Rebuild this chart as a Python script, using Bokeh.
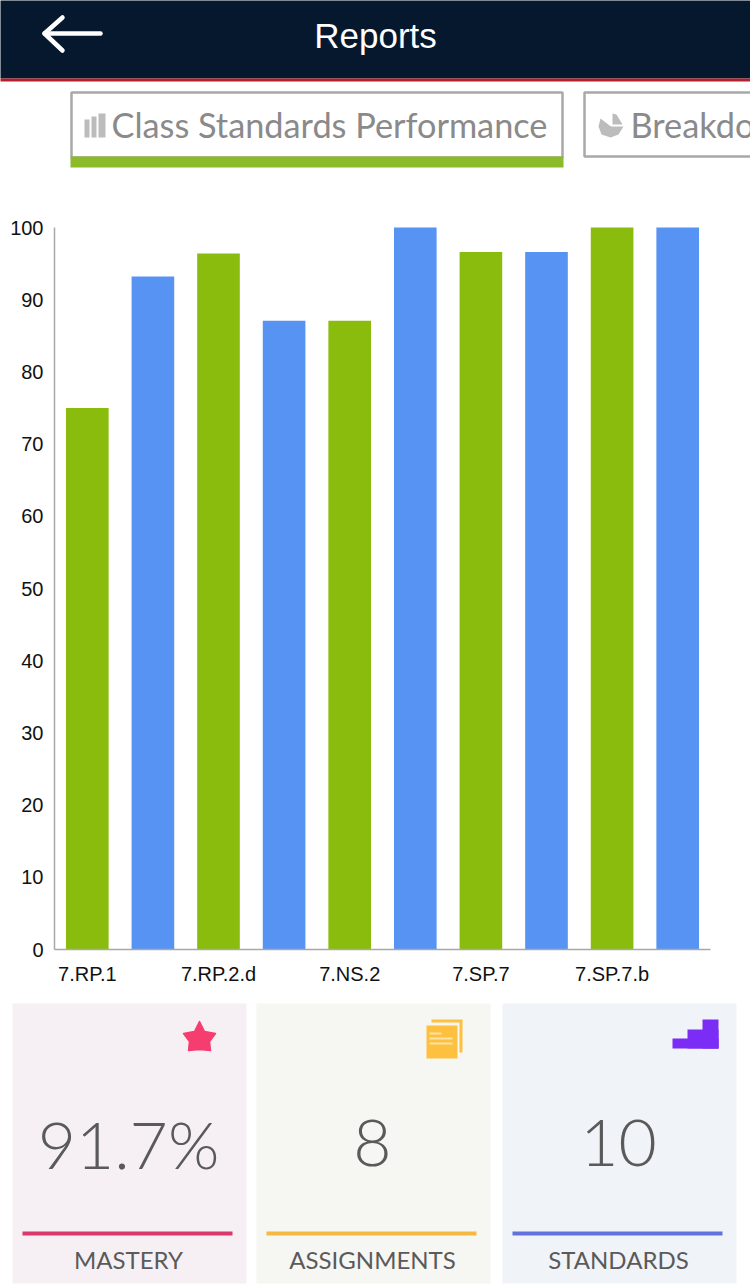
from bokeh.core.properties import value
from bokeh.embed import file_html
from bokeh.resources import INLINE
from bokeh.plotting import figure
from bokeh.models import ColumnDataSource, FixedTicker, Range1d, LinearAxis

# ---- chart data -------------------------------------------------------
tick_labels = ["7.RP.1", "7.RP.2.d", "7.NS.2", "7.SP.7", "7.SP.7.b"]
values = [75, 93.2, 96.4, 87.1, 87.1, 100, 96.6, 96.6, 100, 100]
mastery_group = ["green", "blue", "green", "blue", "green", "blue", "green", "blue", "green", "blue"]
y_ticks = [0, 10, 20, 30, 40, 50, 60, 70, 80, 90, 100]
group_colors = {"green": "#8abc0e", "blue": "#5793f3"}

card_values = ["91.7%", "8", "10"]
card_names = ["MASTERY", "ASSIGNMENTS", "STANDARDS"]

W, H = 750, 1287
# plot area inside the page, in page pixels
FL, FR, FT, FB = 54, 710, 227, 949
positions = list(range(len(values)))
source = ColumnDataSource(dict(x=positions, top=values, color=[group_colors[g] for g in mastery_group]))

# the default ranges are the page pixels; the chart has its own scales
p = figure(width=W, height=H, output_backend="svg", toolbar_location=None,
           x_range=Range1d(0, W), y_range=Range1d(H, 0),
           x_axis_type=None, y_axis_type=None,
           min_border=0, styles={"position": "absolute", "left": "0px", "top": "0px"})
p.outline_line_color = None
p.grid.visible = False
p.background_fill_color = "white"

ux = (FR - FL) / len(values)
uy = (FB - FT) / 100
p.extra_x_ranges["cat"] = Range1d(-0.5 - FL / ux, len(values) - 0.5 + (W - FR) / ux)
p.extra_y_ranges["val"] = Range1d((FB - H) / uy, FB / uy)


def box(l, t, r, b, fill, line=None, lw=0):
    p.quad(left=[l], right=[r], top=[t], bottom=[b], fill_color=fill, line_color=line, line_width=lw)


def text(x, y, s, font, size, color, align="left"):
    # y is the wanted baseline; the text glyph sits about 0.4 em lower than asked
    p.text(x=[x], y=[y - 0.4 * size], text=[s], text_font=value(font), text_font_size=f"{size}px",
           text_color=color, text_align=align, text_baseline="alphabetic")


def poly(xs, ys, fill, line=None, lw=0):
    p.patch(x=xs, y=ys, fill_color=fill, line_color=line, line_width=lw, line_join="round")


def stroke(xs, ys, color, lw):
    p.line(x=xs, y=ys, line_color=color, line_width=lw, line_cap="round", line_join="round")


# chart
p.vbar(x="x", top="top", bottom=0, width=0.65, color="color", line_color=None, source=source,
       x_range_name="cat", y_range_name="val")
xaxis = LinearAxis(x_range_name="cat", fixed_location=FB, bounds=(-0.5, 9.5),
                   ticker=FixedTicker(ticks=positions[::2]),
                   major_label_overrides={positions[i * 2]: t for i, t in enumerate(tick_labels)},
                   major_label_standoff=7)
yaxis = LinearAxis(y_range_name="val", fixed_location=FL, bounds=(0, 100),
                   ticker=FixedTicker(ticks=y_ticks), major_label_standoff=5)
for ax in (xaxis, yaxis):
    ax.axis_line_color = "#a8a8a8"
    ax.axis_line_width = 1.5
    ax.major_tick_line_color = None
    ax.minor_tick_line_color = None
    ax.major_label_text_font = "Liberation Sans"
    ax.major_label_text_font_size = "20px"
    ax.major_label_text_color = "#111111"
p.add_layout(xaxis, "below")
p.add_layout(yaxis, "left")

# header
box(-5, -5, W + 5, 78, "#05182e")
box(-5, 78, W + 5, 81, "#b3202c")
text(375, 49, "Reports", "Liberation Sans", 35, "white", "center")
stroke([44, 100], [33, 33], "white", 4.5)
stroke([62, 44, 62], [17, 33, 50], "white", 4.5)

# tabs
box(71, 92, 562, 157, "white", "#a8a8a8", 2.5)
box(70, 156, 563, 167, "#8bbb28")
box(584, 92, 760, 156, "white", "#a8a8a8", 2.5)
box(84, 119, 89, 137, "#bcbcbc")
box(91, 116, 96, 137, "#bcbcbc")
box(98, 113, 105, 137, "#bcbcbc")
poly([609, 600, 598, 601, 610, 618, 623, 611],
     [125, 118, 126, 134, 137, 134, 126, 126], "#bcbcbc")
poly([612, 616, 622, 612], [113, 114, 124, 124], "#bcbcbc")
text(111, 138, "Class Standards Performance", "Lato", 34.3, "#8a8a8a")
text(630, 138, "Breakdo", "Lato", 34.3, "#8a8a8a")

# cards
card_boxes = [(12, 246, "#f6f0f4", "#d9386a"), (256, 490, "#f6f6f2", "#f5b942"), (502, 736, "#f0f3f7", "#6272dc")]
for (l, r, bg, line_c), v, n in zip(card_boxes, card_values, card_names):
    box(l, 1003, r, 1283, bg)
    box(l + 10, 1231, r - 14, 1235, line_c)
    c = (l + r) / 2 - 1
    text(c, 1169, v, "Lato Light", 66, "#5a5a5a", "center")
    text(c, 1269, n, "Lato", 24, "#5a5a5a", "center")

# star
poly([199, 204, 215, 209, 210, 199, 188, 189, 183, 194],
     [1021, 1031, 1033, 1041, 1050, 1049, 1050, 1041, 1033, 1031], "#f53d6f", "#f53d6f", 1.5)
# documents
box(431, 1019, 462, 1052, "#fdc13f")
box(428, 1022, 459, 1056, "#f6f6f2")
box(426, 1025, 457, 1058, "#fdc13f")
box(429, 1032, 441, 1034, "#fde3a8")
box(429, 1037, 452, 1039, "#fde3a8")
box(429, 1042, 452, 1044, "#fde3a8")
# stairs
box(672, 1038, 718, 1048, "#7b2cf5")
box(687, 1029, 718, 1048, "#7b2cf5")
box(702, 1019, 718, 1048, "#7b2cf5")

open("out.html", "w").write(file_html(p, INLINE))
